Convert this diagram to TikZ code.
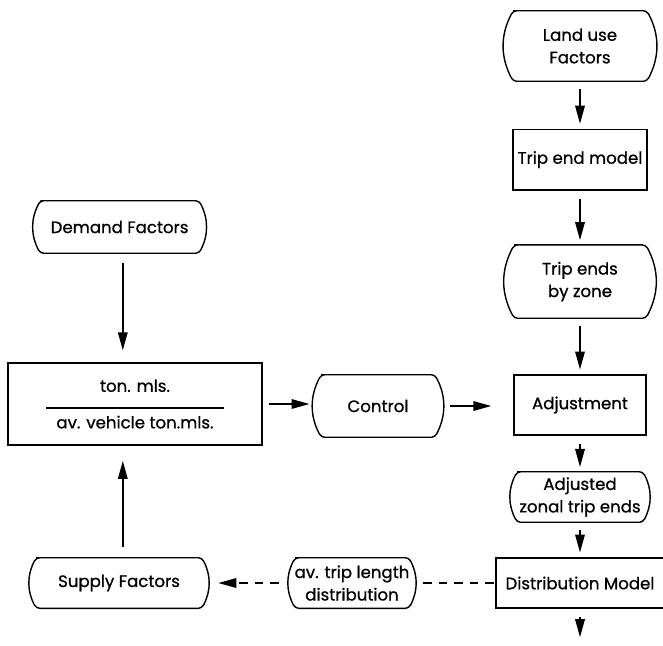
\documentclass[tikz,border=0pt]{standalone}
\usepackage{fontspec}
\setmainfont{Poppins}[FakeBold=0.8]
\usetikzlibrary{positioning,calc,arrows.meta}
\tikzstyle{process}  = [draw, line width=1pt, align=center]
\tikzstyle{flow}     = [line width=1pt, -{Triangle[length=0.45cm,width=0.24cm]}, shorten <=0.2cm, shorten >=0.12cm]
\tikzstyle{link}     = [line width=1pt, dash pattern=on 6pt off 5pt]
\tikzset{
  every node/.style={font=\fontsize{11.8}{16}\selectfont},
  terminal/.style={align=center,
    append after command={\pgfextra{\draw[line width=1pt, line join=round, rounded corners=2.5pt]
      ([xshift=6pt]\tikzlastnode.north west) -- ([xshift=-6pt]\tikzlastnode.north east)
      to[bend left=28] ([xshift=-6pt]\tikzlastnode.south east)
      -- ([xshift=6pt]\tikzlastnode.south west)
      to[bend left=28] ([xshift=6pt]\tikzlastnode.north west) -- ([xshift=8pt]\tikzlastnode.north west);}}}
}
\begin{document}
\begin{tikzpicture}
\useasboundingbox (0,0) rectangle (16.575,-16.125);
% right column
\node[terminal, minimum width=3.75cm, minimum height=1.75cm] (landuse)   at (14.5,-1.15)   {Land use\\Factors};
\node[process,  minimum width=3.3cm,  minimum height=1.52cm] (tripmodel) at (14.5,-3.99)   {Trip end model};
\node[terminal, minimum width=3.7cm,  minimum height=1.82cm] (tripends)  at (14.5,-7.04)   {Trip ends\\by zone};
\node[process,  minimum width=3.3cm,  minimum height=1.5cm]  (adjust)    at (14.5,-10.125) {Adjustment};
\node[terminal, minimum width=3.55cm, minimum height=1.25cm] (adjusted)  at (14.5,-12.425) {Adjusted\\zonal trip ends};
\node[process,  minimum width=4.2cm,  minimum height=1.25cm] (distmodel) at (14.5,-14.575) {Distribution Model};
\coordinate (out) at (14.5,-16.05);
% left part
\node[terminal, minimum width=4.375cm, minimum height=1.3cm] (demand)  at (2.99,-5.675)  {Demand Factors};
\node[process,  minimum width=6.35cm,  minimum height=2.05cm] (ratio)  at (3.375,-10.1)  {ton. mls.\\[-4pt]\rule{4.45cm}{1pt}\\[-2pt]av. vehicle ton.mls.};
\node[terminal, minimum width=3.25cm, minimum height=1.55cm] (control) at (9.45,-10.15)  {Control};
\node[terminal, minimum width=4.55cm, minimum height=1.25cm] (supply)  at (2.975,-14.575) {Supply Factors};
\node[terminal, minimum width=3.25cm, minimum height=1.25cm] (avtrip)  at (8.8,-14.575)  {av. trip length\\distribution};
\coordinate (up) at (3.07,-14.575);

\draw[flow] (landuse)   -- (tripmodel);
\draw[flow] (tripmodel) -- (tripends);
\draw[flow] (tripends)  -- (adjust);
\draw[flow] (adjust)    -- (adjusted);
\draw[flow] (adjusted)  -- (distmodel);
\draw[flow] (distmodel) -- (out);
\draw[flow, shorten <=0.25cm, shorten >=0.3cm] (up |- demand.south) -- (up |- ratio.north);
\draw[flow, shorten <=0.28cm, shorten >=0.38cm] (up |- supply.north) -- (up |- ratio.south);
\draw[flow, shorten <=0.15cm, shorten >=0.08cm] (ratio.east) -- (ratio.east -| control.west);
\draw[flow, shorten <=0.18cm, shorten >=0.55cm] (control.east) -- (control.east -| adjust.west);
\draw[link, -{Triangle[length=0.45cm,width=0.24cm]}, shorten <=0.2cm, shorten >=0.2cm] (avtrip) -- (supply);
\draw[link, shorten <=0.15cm] (avtrip) -- (distmodel);
\end{tikzpicture}
\end{document}
